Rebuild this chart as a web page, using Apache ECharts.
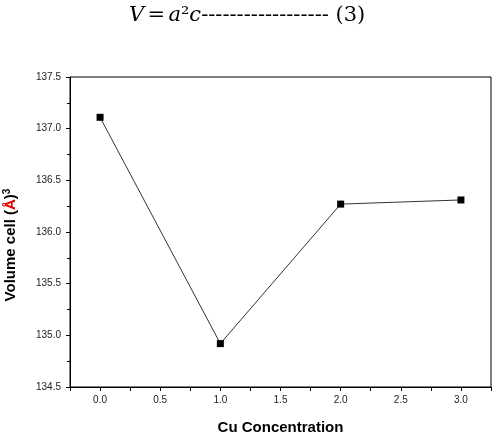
<!DOCTYPE html>
<html><head><meta charset="utf-8">
<script src="https://cdn.jsdelivr.net/npm/echarts@6/dist/echarts.min.js"></script>
<style>html,body{margin:0;padding:0;background:#fff}#c{width:493px;height:438px}</style>
</head><body><div id="c"></div>
<script>
const cuConcentration = [0.0, 1.0, 2.0, 3.0];
const volumeCell = [137.11, 134.92, 136.27, 136.31];
const yTicks = [134.5, 135.0, 135.5, 136.0, 136.5, 137.0, 137.5];
const xTickLabels = [0.0, 0.5, 1.0, 1.5, 2.0, 2.5, 3.0];

const chart = echarts.init(document.getElementById('c'));
chart.setOption({
  animation: false,
  backgroundColor: '#fff',
  grid: { left: 70, top: 77, right: 2, bottom: 51, show: true, borderColor: '#000', borderWidth: 1, outerBoundsMode: 'none', containLabel: false },
  graphic: [{
    type: 'text', left: 129, top: 5,
    style: {
      text: '{i|V} {n|=} {i|a}{n|²}{i|c}{n|------------------ (3)}',
      rich: {
        i: { fontFamily: 'DejaVu Serif', fontStyle: 'italic', fontSize: 21, fill: '#000' },
        n: { fontFamily: 'DejaVu Serif', fontSize: 21, fill: '#000' }
      }
    }
  }, {
    type: 'text', x: 11, y: 245, rotation: Math.PI / 2,
    style: {
      text: '{b|Volume cell (}{r|Å}{b|)}{p|3}',
      align: 'center', verticalAlign: 'middle',
      rich: {
        b: { fontFamily: 'Liberation Sans', fontWeight: 'bold', fontSize: 15, fill: '#000' },
        r: { fontFamily: 'Liberation Sans', fontWeight: 'bold', fontSize: 15, fill: '#e00000' },
        p: { fontFamily: 'Liberation Sans', fontWeight: 'bold', fontSize: 10, fill: '#000', verticalAlign: 'top', padding: [0, 0, 8, 0] }
      }
    }
  }],
  xAxis: {
    type: 'value', min: -0.25, max: 3.25, interval: 0.25,
    name: 'Cu Concentration', nameLocation: 'middle', nameGap: 33,
    nameTextStyle: { fontFamily: 'Liberation Sans', fontWeight: 'bold', fontSize: 15, color: '#000' },
    axisLine: { onZero: false, lineStyle: { color: '#000', width: 1 } },
    axisTick: { show: true, inside: false, length: 4, lineStyle: { color: '#000' } },
    axisLabel: {
      fontFamily: 'Liberation Sans', fontSize: 10, color: '#222', margin: 8,
      formatter: function (v) {
        for (const t of xTickLabels) { if (Math.abs(v - t) < 1e-6) return t.toFixed(1); }
        return '';
      }
    },
    splitLine: { show: false }
  },
  yAxis: {
    type: 'value', min: yTicks[0], max: yTicks[yTicks.length - 1], interval: 0.5,
    axisLine: { show: true, onZero: false, lineStyle: { color: '#000', width: 1 } },
    axisTick: { show: true, inside: false, length: 4, lineStyle: { color: '#000' } },
    minorTick: { show: true, splitNumber: 2, length: 3, lineStyle: { color: '#000' } },
    axisLabel: { fontFamily: 'Liberation Sans', fontSize: 10, color: '#222', margin: 9, formatter: v => v.toFixed(1) },
    splitLine: { show: false }
  },
  series: [{
    type: 'line',
    data: cuConcentration.map((x, i) => [x, volumeCell[i]]),
    symbol: 'rect', symbolSize: 7,
    itemStyle: { color: '#000' },
    lineStyle: { color: '#333', width: 1 }
  }]
});
</script></body></html>
